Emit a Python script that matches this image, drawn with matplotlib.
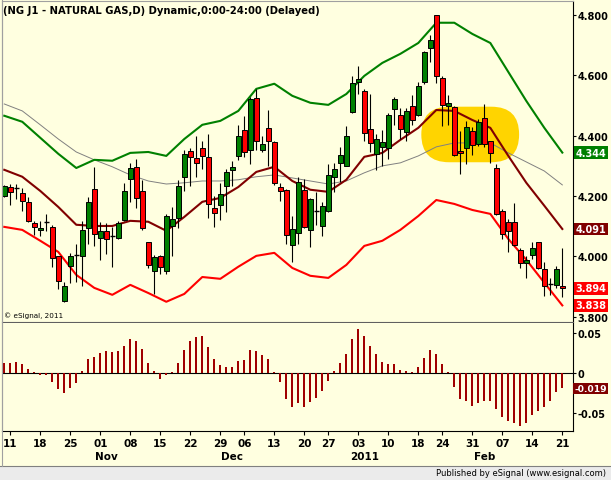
import numpy as np
import matplotlib
matplotlib.use('Agg')
import matplotlib.pyplot as plt
import matplotlib.transforms as mtransforms
from matplotlib.patches import FancyBboxPatch, Rectangle
from matplotlib.lines import Line2D

####################################################################################################
# Daily bars, Oct 08 2010 -> Feb 21 2011

opens = [4.200, 4.231, 4.226, 4.210, 4.180, 4.110, 4.087, 4.114, 4.097, 4.000,
         3.851, 3.970, 4.004, 4.001, 4.094, 4.222, 4.061, 4.083, 4.067, 4.061,
         4.121, 4.257, 4.296, 4.216, 4.047, 3.951, 4.001, 3.953, 4.102, 4.129,
         4.263, 4.349, 4.327, 4.360, 4.329, 4.160, 4.171, 4.233, 4.287, 4.334,
         4.419, 4.353, 4.524, 4.352, 4.425, 4.379, 4.229, 4.221, 4.038, 4.078,
         4.221, 4.089, 4.150, 4.100, 4.149, 4.263, 4.309, 4.301, 4.478, 4.577,
         4.547, 4.423, 4.340, 4.362, 4.359, 4.489, 4.467, 4.412, 4.498, 4.469,
         4.577, 4.690, 4.798, 4.590, 4.498, 4.494, 4.349, 4.359, 4.417, 4.373,
         4.458, 4.381, 4.292, 4.152, 4.114, 4.114, 4.020, 3.978, 4.005, 4.047,
         3.957, 3.909, 3.906, 3.902]
highs = [4.238, 4.240, 4.240, 4.226, 4.196, 4.119, 4.119, 4.139, 4.105, 4.003,
         3.916, 4.012, 4.042, 4.116, 4.196, 4.296, 4.114, 4.111, 4.097, 4.116,
         4.243, 4.310, 4.323, 4.254, 4.049, 4.005, 4.005, 4.141, 4.163, 4.254,
         4.351, 4.359, 4.400, 4.384, 4.406, 4.200, 4.243, 4.290, 4.316, 4.436,
         4.465, 4.528, 4.555, 4.398, 4.486, 4.384, 4.243, 4.224, 4.133, 4.263,
         4.255, 4.193, 4.213, 4.180, 4.307, 4.310, 4.362, 4.432, 4.597, 4.630,
         4.555, 4.538, 4.406, 4.418, 4.476, 4.528, 4.491, 4.492, 4.536, 4.577,
         4.680, 4.735, 4.800, 4.597, 4.536, 4.498, 4.417, 4.447, 4.428, 4.456,
         4.505, 4.384, 4.306, 4.158, 4.125, 4.178, 4.028, 4.003, 4.047, 4.049,
         3.981, 3.928, 3.968, 4.028]
lows = [4.196, 4.169, 4.191, 4.152, 4.115, 4.072, 4.069, 4.083, 3.965, 3.893,
        3.849, 3.913, 3.916, 3.902, 4.042, 4.036, 3.987, 4.009, 3.965, 4.058,
        4.119, 4.180, 4.160, 4.089, 3.961, 3.876, 3.942, 3.942, 4.003, 4.094,
        4.218, 4.233, 4.263, 4.290, 4.127, 4.097, 4.122, 4.147, 4.233, 4.321,
        4.328, 4.307, 4.353, 4.347, 4.301, 4.238, 4.185, 4.042, 3.983, 4.042,
        4.094, 4.031, 4.105, 4.069, 4.147, 4.213, 4.248, 4.299, 4.476, 4.538,
        4.384, 4.347, 4.285, 4.301, 4.323, 4.434, 4.389, 4.384, 4.437, 4.465,
        4.572, 4.643, 4.575, 4.432, 4.434, 4.334, 4.274, 4.307, 4.336, 4.367,
        4.362, 4.310, 4.136, 4.058, 4.016, 4.036, 3.961, 3.928, 3.992, 3.959,
        3.869, 3.871, 3.895, 3.865]
closes = [4.233, 4.213, 4.226, 4.185, 4.119, 4.097, 4.094, 4.114, 3.995, 3.920,
          3.902, 4.003, 4.004, 4.089, 4.182, 4.075, 4.086, 4.058, 4.067, 4.110,
          4.216, 4.292, 4.193, 4.094, 3.972, 3.997, 3.965, 4.133, 4.124, 4.234,
          4.339, 4.329, 4.309, 4.332, 4.173, 4.143, 4.207, 4.279, 4.297, 4.400,
          4.345, 4.522, 4.382, 4.372, 4.383, 4.243, 4.216, 4.072, 4.091, 4.246,
          4.097, 4.191, 4.150, 4.167, 4.270, 4.290, 4.337, 4.398, 4.575, 4.587,
          4.408, 4.376, 4.389, 4.379, 4.467, 4.522, 4.423, 4.481, 4.452, 4.566,
          4.677, 4.718, 4.597, 4.502, 4.508, 4.337, 4.342, 4.428, 4.370, 4.445,
          4.373, 4.343, 4.140, 4.075, 4.084, 4.038, 3.979, 3.989, 4.028, 3.961,
          3.902, 3.909, 3.957, 3.894]

# Bands, sampled every third bar
band_idx = list(range(0, 94, 3))
upper = [4.466, 4.446, 4.393, 4.340, 4.293, 4.320, 4.317, 4.343, 4.346, 4.333,
         4.389, 4.436, 4.449, 4.482, 4.555, 4.572, 4.532, 4.509, 4.502, 4.538,
         4.598, 4.641, 4.671, 4.707, 4.774, 4.774, 4.737, 4.707, 4.611, 4.515,
         4.426, 4.344]
middle = [4.287, 4.264, 4.217, 4.164, 4.105, 4.101, 4.101, 4.118, 4.115, 4.085,
          4.131, 4.181, 4.194, 4.230, 4.280, 4.297, 4.250, 4.221, 4.214, 4.254,
          4.330, 4.343, 4.386, 4.426, 4.485, 4.482, 4.452, 4.426, 4.333, 4.244,
          4.168, 4.091]
lower = [4.098, 4.088, 4.052, 4.015, 3.939, 3.896, 3.873, 3.906, 3.879, 3.850,
         3.876, 3.932, 3.926, 3.966, 4.002, 4.012, 3.962, 3.936, 3.929, 3.972,
         4.035, 4.052, 4.088, 4.134, 4.187, 4.174, 4.154, 4.141, 4.058, 3.989,
         3.913, 3.838]
slow_avg = [4.505, 4.482, 4.436, 4.389, 4.346, 4.320, 4.297, 4.270, 4.250, 4.240,
            4.244, 4.250, 4.250, 4.254, 4.264, 4.270, 4.260, 4.250, 4.240, 4.250,
            4.277, 4.300, 4.310, 4.333, 4.363, 4.376, 4.376, 4.376, 4.343, 4.313,
            4.283, 4.237]

# Oscillator histogram (lower pane)
osc = [0.0125, 0.0125, 0.014, 0.011, 0.005, 0.001, -0.003, -0.003, -0.011, -0.02,
       -0.025, -0.019, -0.012, 0.002, 0.0175, 0.020, 0.025, 0.027, 0.026, 0.027,
       0.034, 0.0425, 0.040, 0.030, 0.013, 0.003, -0.0075, -0.0025, 0.0015, 0.0125,
       0.029, 0.040, 0.045, 0.0465, 0.0325, 0.0175, 0.010, 0.0075, 0.0075, 0.015,
       0.016, 0.029, 0.028, 0.0225, 0.0175, 0.001, -0.0115, -0.032, -0.043, -0.038,
       -0.042, -0.036, -0.031, -0.023, -0.0095, 0.0025, 0.0125, 0.024, 0.0425, 0.055,
       0.0465, 0.034, 0.024, 0.014, 0.011, 0.011, 0.004, 0.0025, 0.0015, 0.0075,
       0.019, 0.029, 0.024, 0.011, 0.0015, -0.018, -0.0325, -0.035, -0.041, -0.037,
       -0.035, -0.035, -0.045, -0.055, -0.060, -0.063, -0.0665, -0.063, -0.053, -0.047,
       -0.042, -0.035, -0.024, -0.019]

# Date axis
day_idx = [1, 6, 11, 16, 21, 26, 31, 36, 40, 45, 50, 54, 59, 64, 69, 73, 78, 83, 88, 93]
day_labels = ['11', '18', '25', '01', '08', '15', '22', '29', '06', '13',
              '20', '27', '03', '10', '18', '24', '31', '07', '14', '21']
month_idx = [17, 38, 60, 80]
month_labels = ['Nov', 'Dec', '2011', 'Feb']

price_ticks = [3.8, 4.0, 4.2, 4.4, 4.6, 4.8]
osc_ticks = [0.05, 0.0, -0.05]
osc_tick_labels = ['0.05', '0', '-0.05']

# Hand-drawn highlight (bars / prices)
hl_bars = (69.5, 85.8)
hl_prices = (4.312, 4.496)

####################################################################################################

bg = '#FFFFE0'
W, H = 611.0, 481.0
plt.rcParams['font.family'] = ['DejaVu Sans']
scale_fs = 7.0

fig = plt.figure(figsize=(W / 100, H / 100), dpi=100, facecolor=bg)

# grey status strip at the bottom
fig.patches.append(Rectangle((0, 0), 1, 14 / H, transform=fig.transFigure,
                             facecolor='#EBEBEB', edgecolor='none', zorder=0))
fig.lines.append(Line2D([0, 1], [14 / H, 14 / H], transform=fig.transFigure, color='#808080', lw=0.8))
fig.lines.append(Line2D([2 / W, 2 / W], [14 / H, 1], transform=fig.transFigure, color='#A0A0A0', lw=0.8))
fig.text(606 / W, 7 / H, 'Published by eSignal (www.esignal.com)', ha='right', va='center', fontsize=6)

ax = fig.add_axes([2 / W, 1 - 323 / H, 571 / W, 321 / H], facecolor=bg)
ax2 = fig.add_axes([2 / W, 1 - 432 / H, 571 / W, 108 / H], facecolor=bg)

xlim = (-0.38, 94.78)
ax.set_xlim(*xlim)
ax.set_ylim(3.783, 4.846)
ax2.set_xlim(*xlim)
ax2.set_ylim(-0.0725, 0.0625)

for a in (ax, ax2):
    a.spines['left'].set_color('#A0A0A0')
    a.spines['right'].set_color('black')
    a.spines['top'].set_color('#A0A0A0')
    a.spines['bottom'].set_color('#606060')
    for s in a.spines.values():
        s.set_linewidth(0.8)
ax2.spines['top'].set_visible(False)
ax2.spines['bottom'].set_color('black')

# --- highlight, drawn in pixel-correct proportions
fig.canvas.draw()
p0 = ax.transData.transform((0, 4.0))
p1 = ax.transData.transform((1, 5.0))
bar_px, price_px = p1[0] - p0[0], p1[1] - p0[1]
hl_h = hl_prices[1] - hl_prices[0]
radius = hl_h * price_px / 2 / bar_px
ax.add_patch(FancyBboxPatch((hl_bars[0], hl_prices[0]), hl_bars[1] - hl_bars[0], hl_h,
                            boxstyle='round,pad=0,rounding_size=%f' % radius,
                            mutation_aspect=bar_px / price_px,
                            facecolor='#FFD400', edgecolor='none', zorder=1))

# --- bands
ax.plot(band_idx, slow_avg, color='#808080', lw=0.7, zorder=2)
ax.plot(band_idx, upper, color='#008000', lw=1.5, zorder=3)
ax.plot(band_idx, middle, color='#800000', lw=1.5, zorder=3)
ax.plot(band_idx, lower, color='#FF0000', lw=1.5, zorder=3)

# --- candles
idx = np.arange(len(closes))
o, h, l, c = (np.array(v) for v in (opens, highs, lows, closes))
up, dn, flat = c > o, c < o, c == o
ax.vlines(idx, l, h, color='black', lw=0.8, zorder=4)
ax.bar(idx[up], (c - o)[up], bottom=o[up], width=0.75, color='#008000',
       edgecolor='black', lw=0.7, zorder=5)
ax.bar(idx[dn], (o - c)[dn], bottom=c[dn], width=0.75, color='#FF0000',
       edgecolor='black', lw=0.7, zorder=5)
ax.hlines(c[flat], idx[flat] - 0.4, idx[flat] + 0.4, color='black', lw=1.0, zorder=5)

ax.text(0.002, 0.988, '(NG J1 - NATURAL GAS,D) Dynamic,0:00-24:00 (Delayed)',
        transform=ax.transAxes, ha='left', va='top', fontsize=7.2, fontweight='bold')
ax.text(0.004, 0.012, '\u00a9 eSignal, 2011', transform=ax.transAxes,
        ha='left', va='bottom', fontsize=5.2)

ax.set_xticks([])
ax.yaxis.tick_right()
ax.set_yticks(price_ticks)
ax.set_yticklabels(['%.3f' % v for v in price_ticks])
ax.tick_params(axis='y', length=2, pad=1, labelsize=scale_fs)
for t in ax.get_yticklabels():
    t.set_fontweight('bold')

# last-value boxes on the price scale
lab_tr = mtransforms.blended_transform_factory(ax.transAxes, ax.transData)
for val, col in ((upper[-1], '#008000'), (middle[-1], '#800000'),
                 (closes[-1], '#FF0000'), (lower[-1], '#FF0000')):
    ax.text(1.0 + 2.5 / 571, val, '%.3f' % val, transform=lab_tr, ha='left', va='center',
            color='white', fontsize=scale_fs, fontweight='bold', clip_on=False, zorder=10,
            bbox=dict(boxstyle='square,pad=0.15', facecolor=col, edgecolor='none'))

# --- oscillator pane
ax2.bar(idx, osc, width=0.32, color='#A00000', zorder=3)
ax2.axhline(0, color='black', lw=0.8, zorder=2)
ax2.yaxis.tick_right()
ax2.set_yticks(osc_ticks)
ax2.set_yticklabels(osc_tick_labels)
ax2.tick_params(axis='y', length=2, pad=1, labelsize=scale_fs)
for t in ax2.get_yticklabels():
    t.set_fontweight('bold')
lab_tr2 = mtransforms.blended_transform_factory(ax2.transAxes, ax2.transData)
ax2.text(1.0 + 1.5 / 571, osc[-1], '%.3f' % osc[-1], transform=lab_tr2, ha='left', va='center',
         color='white', fontsize=6.6, fontweight='bold', clip_on=False, zorder=10,
         bbox=dict(boxstyle='square,pad=0.12', facecolor='#800000', edgecolor='none'))

ax2.set_xticks(day_idx)
ax2.set_xticklabels(day_labels)
ax2.tick_params(axis='x', length=3, pad=2, labelsize=7.5)
for t in ax2.get_xticklabels():
    t.set_fontweight('bold')
mon_tr = mtransforms.blended_transform_factory(ax2.transData, ax2.transAxes)
for m, name in zip(month_idx, month_labels):
    ax2.text(m, -25 / 108, name, transform=mon_tr, ha='center', va='center',
             fontsize=7.5, fontweight='bold')

fig.savefig('out.png', dpi=100, facecolor=bg)
